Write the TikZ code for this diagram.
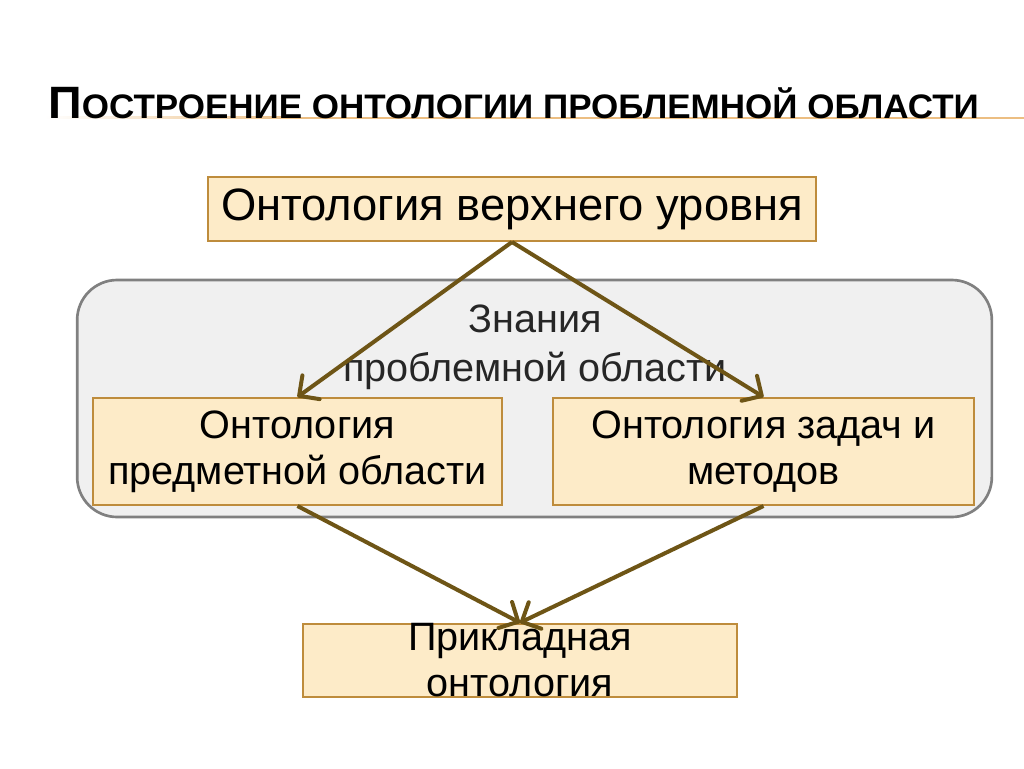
\documentclass[tikz,border=0pt]{standalone}
\usepackage{fontspec}
\setmainfont{Liberation Sans}
\newfontfamily\titlefont[FakeStretch=1.03]{Liberation Sans}
\usetikzlibrary{arrows.meta,positioning}
\definecolor{boxfill}{RGB}{253,235,200}
\definecolor{boxline}{RGB}{190,140,60}
\definecolor{arr}{RGB}{110,85,22}
\definecolor{grayfill}{RGB}{240,240,240}
\definecolor{grayline}{RGB}{128,128,128}
\definecolor{titlerule}{RGB}{236,190,130}
\tikzset{
  onto/.style={draw=boxline,fill=boxfill,line width=1.5pt,inner sep=0pt,align=center,
    font=\fontsize{29.7}{34.5}\selectfont},
  link/.style={draw=arr,line width=3pt,-{Straight Barb[length=11pt,width=22pt,round]}}
}
\begin{document}
\begin{tikzpicture}[x=0.75pt,y=-0.75pt]
\useasboundingbox[fill=white](0,0)rectangle(1024,768);
% title
\shade[left color=white,right color=titlerule](45,116.5)rectangle(300,118.5);
\fill[titlerule](300,116.5)rectangle(1024,118.5);
\node[anchor=base west,inner sep=0](T)at(48,118){\titlefont\bfseries{\fontsize{34}{34}\selectfont П}{\fontsize{25.5}{26}\selectfont ОСТРОЕНИЕ ОНТОЛОГИИ ПРОБЛЕМНОЙ ОБЛАСТИ}};
% problem knowledge area
\node[draw=grayline,fill=grayfill,line width=2pt,rounded corners=30pt,minimum width=686pt,minimum height=177.75pt](K)at(534.5,398.5){};
\node[align=center,text=black!85,font=\fontsize{29.7}{36.75}\selectfont](KT)at(535,347){Знания\\проблемной области};
% boxes
\node[onto,font=\fontsize{34}{40}\selectfont,minimum width=456pt,minimum height=48pt](U)at(512,209){Онтология верхнего уровня};
\node[onto,minimum width=306.75pt,minimum height=80.25pt](D)at(297.5,451.5){Онтология\\предметной области};
\node[onto,minimum width=315.75pt,minimum height=80.25pt](M)at(763.5,451.5){Онтология задач и\\методов};
\node[onto,minimum width=325.5pt,minimum height=44.25pt](A)at(520,660.5){Прикладная\\онтология};
% arrows
\draw[link](U.south)--(D.north);
\draw[link](U.south)--(M.north);
\draw[link](D.south)--(A.north);
\draw[link](M.south)--(A.north);
\end{tikzpicture}
\end{document}
